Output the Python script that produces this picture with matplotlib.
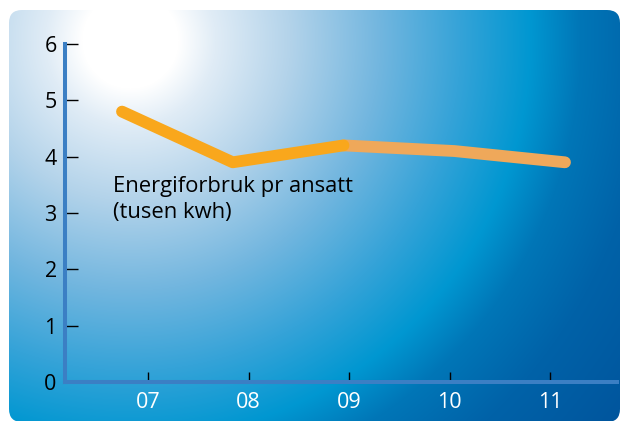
import numpy as np
import matplotlib
matplotlib.use("Agg")
import matplotlib.pyplot as plt
from matplotlib.patches import FancyBboxPatch
from matplotlib.colors import to_rgb

plt.rcParams['font.family'] = ['Open Sans', 'DejaVu Sans']

years = [7, 8, 9, 10, 11]
year_labels = ["07", "08", "09", "10", "11"]
energy = [4.8, 3.9, 4.2, 4.1, 3.9]
y_ticks = [0, 1, 2, 3, 4, 5, 6]

W, H = 624, 421
fig = plt.figure(figsize=(W / 100, H / 100), dpi=100)
fig.patch.set_facecolor("white")

# background: rounded panel with a "sun" radial gradient
bg = fig.add_axes([0, 0, 1, 1])
bg.set_xlim(0, W)
bg.set_ylim(H, 0)
bg.axis("off")

yy, xx = np.mgrid[0:H, 0:W]
dist = np.hypot(xx - 130, yy - 40)
stops_d = [0, 48, 85, 160, 250, 330, 400, 450, 520, 620]
stops_c = ["#ffffff", "#ffffff", "#e0ecf6", "#b3d3ea", "#72b6df", "#35a3d8",
           "#0097d1", "#0076b7", "#0062a8", "#00559d"]
rgb = np.array([to_rgb(c) for c in stops_c])
img = np.dstack([np.interp(dist, stops_d, rgb[:, k]) for k in range(3)])
im = bg.imshow(img, extent=(0, W, H, 0), interpolation="bilinear", zorder=0)
panel = FancyBboxPatch((9, 10), 611, 412, boxstyle="round,pad=0,rounding_size=13",
                       transform=bg.transData, facecolor="none", edgecolor="none")
bg.add_patch(panel)
im.set_clip_path(panel)

# main axes (years for ticks)
left, right, bottom, top = 65, 617, 382, 44
ax = fig.add_axes([left / W, (H - bottom) / H, (right - left) / W, (bottom - top) / H])
ax.patch.set_alpha(0)
ax.set_xlim(7 - 83 / 100.5, 11 + 67 / 100.5)
ax.set_ylim(0, 6)
for s in ["top", "right"]:
    ax.spines[s].set_visible(False)
for s in ["left", "bottom"]:
    ax.spines[s].set_color("#3b7fc4")
    ax.spines[s].set_linewidth(2.9)
ax.set_yticks(y_ticks)
ax.set_xticks(years)
ax.set_xticklabels(year_labels)
ax.tick_params(axis="y", direction="in", length=9.5, width=1.0, color="black",
               labelsize=15.5, labelcolor="black", pad=6)
ax.tick_params(axis="x", direction="in", length=7.5, width=1.0, color="black",
               labelsize=15.5, labelcolor="white", pad=7)

# line on its own x scale (points are not centred on the ticks)
ax2 = ax.twiny()
ax2.patch.set_alpha(0)
ax2.axis("off")
ax2.set_xlim(-57 / 110.75, 4 + 52 / 110.75)
ax2.set_ylim(0, 6)
idx = np.arange(len(energy))
ax2.plot(idx[2:], energy[2:], color="#efa85a", lw=8.5, solid_capstyle="round",
         solid_joinstyle="round", zorder=3)
ax2.plot(idx[:3], energy[:3], color="#f9a71c", lw=8.5, solid_capstyle="round",
         solid_joinstyle="round", zorder=4)

ax.text(6.65, 3.65, "Energiforbruk pr ansatt\n(tusen kwh)", fontsize=15.8,
        color="black", va="top", ha="left", linespacing=1.3)

fig.savefig("out.png", dpi=100)
